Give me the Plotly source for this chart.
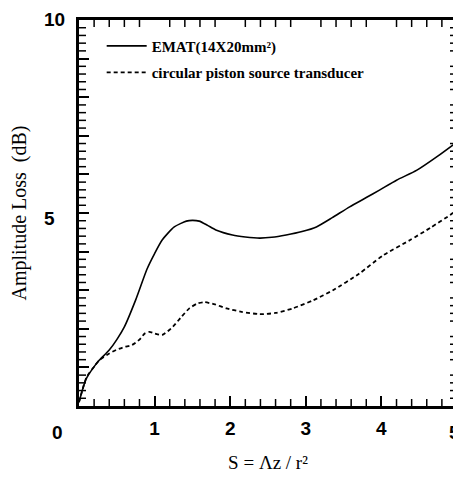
import plotly.graph_objects as go

# EMAT (14x20 mm^2) curve: S vs amplitude loss (dB)
emat_s = [0.0, 0.05, 0.1, 0.2, 0.27, 0.4, 0.5, 0.6, 0.75, 0.9, 1.0, 1.1, 1.26, 1.42, 1.5, 1.59, 1.7,
          1.81, 2.03, 2.2, 2.39, 2.55, 2.74, 2.95, 3.14, 3.35, 3.58, 3.8, 3.98, 4.2, 4.47, 4.75, 5.0]
emat_db = [0.1, 0.45, 0.72, 1.02, 1.19, 1.45, 1.72, 2.05, 2.75, 3.55, 3.95, 4.3, 4.64, 4.79, 4.81, 4.79, 4.68,
           4.56, 4.43, 4.38, 4.35, 4.37, 4.43, 4.52, 4.64, 4.88, 5.16, 5.4, 5.6, 5.85, 6.11, 6.48, 6.84]

# circular piston source transducer curve
piston_s = [0.0, 0.05, 0.1, 0.2, 0.27, 0.4, 0.49, 0.6, 0.7, 0.8, 0.87, 0.93, 1.0, 1.1, 1.24, 1.35, 1.46,
            1.56, 1.66, 1.8, 1.95, 2.15, 2.39, 2.6, 2.83, 3.1, 3.36, 3.7, 4.02, 4.38, 4.65, 4.91, 5.0]
piston_db = [0.1, 0.45, 0.75, 1.02, 1.19, 1.36, 1.45, 1.53, 1.58, 1.72, 1.88, 1.92, 1.88, 1.84, 2.05, 2.3, 2.53,
             2.65, 2.69, 2.63, 2.53, 2.44, 2.38, 2.41, 2.53, 2.74, 3.0, 3.42, 3.9, 4.3, 4.62, 4.95, 5.08]

series_names = ["EMAT(14X20mm²)", "circular piston source transducer"]
y_tick_vals = [10, 5]
y_tick_text = ["10", "5"]
origin_label = "0"
last_x_label = "5"
x_title = "S = Λz / r²"
y_title = "Amplitude Loss  (dB)"
x_minor_step = 0.2
y_minor_step = 0.2

TICKFONT = dict(family="Liberation Sans, Arial", size=19, color="black", weight="bold")
SERIF = "Liberation Serif, Times New Roman, serif"

W, H = 453, 470
ML, MR, MT, MB = 71, 4, 12, 72
PW, PH = W - ML - MR, H - MT - MB

fig = go.Figure()
fig.add_trace(go.Scatter(x=emat_s, y=emat_db, mode="lines", name=series_names[0], legendgroup="a",
                         line=dict(color="black", width=1.6, shape="spline", smoothing=0.6)))
fig.add_trace(go.Scatter(x=piston_s, y=piston_db, mode="lines", name=series_names[1], legendgroup="b",
                         line=dict(color="black", width=1.8, dash="4px,3px", shape="spline", smoothing=0.6)))

axis_common = dict(showline=True, linecolor="black", linewidth=2.5, mirror=True,
                   ticks="inside", ticklen=10, tickwidth=1.6, tickcolor="black",
                   showgrid=False, zeroline=False, tickfont=TICKFONT, automargin=False)

# page body has an 8px margin: size the figure so the plot lands where the reference has it
fig.update_layout(
    template="none",
    width=W, height=H,
    margin=dict(l=ML, r=MR, t=MT, b=MB),
    paper_bgcolor="white", plot_bgcolor="white",
    showlegend=True,
    xaxis=dict(range=[0, 5], tickmode="linear", tick0=0, dtick=1, labelalias={"0": " ", "5": " "},
               ticklabeloverflow="allow",
               title=dict(text=x_title, font=dict(family=SERIF, size=19, color="black"), standoff=19),
               ticklabelstandoff=3, **axis_common),
    yaxis=dict(range=[0, 10], tickmode="linear", tick0=0, dtick=1, showticklabels=False,
               title=dict(text=y_title, font=dict(family=SERIF, size=20, color="black"), standoff=52),
               **axis_common),
    legend=dict(x=0.06, y=0.975, xanchor="left", yanchor="top", bgcolor="rgba(0,0,0,0)",
                font=dict(family=SERIF, size=15, color="black", weight="bold"),
                itemwidth=40, tracegroupgap=4),
)

# minor ticks (inside, on all four sides) drawn as short line shapes
tick_px = 7
shapes = []
n_x = int(round(5 / x_minor_step))
for i in range(1, n_x):
    v = i * x_minor_step
    if i % 5 == 0:
        continue
    for y0, y1 in ((0, tick_px / PH), (1, 1 - tick_px / PH)):
        shapes.append(dict(type="line", xref="x", yref="paper", x0=v, x1=v, y0=y0, y1=y1,
                           line=dict(color="black", width=1.5)))
n_y = int(round(10 / y_minor_step))
for i in range(1, n_y):
    v = i * y_minor_step
    if i % 5 == 0:
        continue
    for x0, x1 in ((0, tick_px / PW), (1, 1 - tick_px / PW)):
        shapes.append(dict(type="line", xref="paper", yref="y", x0=x0, x1=x1, y0=v, y1=v,
                           line=dict(color="black", width=1.5)))
fig.update_layout(shapes=shapes)

annotations = []
for v, t in zip(y_tick_vals, y_tick_text):
    annotations.append(dict(x=-0.098, y=v, xref="paper", yref="y", text=t, showarrow=False,
                            xanchor="left", yanchor="middle", yshift=-5 if v == 5 else 1,
                            font=TICKFONT))
annotations.append(dict(x=0, y=0, xref="x", yref="y", text=origin_label, showarrow=False,
                        xanchor="center", yanchor="top", xshift=-22, yshift=-14, font=TICKFONT))
annotations.append(dict(x=5, y=0, xref="x", yref="y", text=last_x_label, showarrow=False,
                        xanchor="center", yanchor="top", xshift=-3, yshift=-14, font=TICKFONT))
fig.update_layout(annotations=annotations)

fig.write_html("out.html")
